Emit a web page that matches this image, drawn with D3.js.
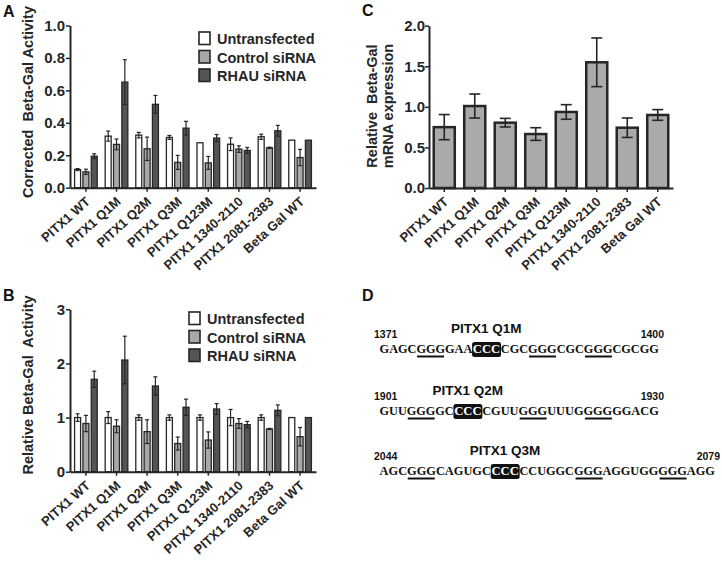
<!DOCTYPE html>
<html><head><meta charset="utf-8">
<script src="https://cdn.jsdelivr.net/npm/d3@7"></script>
<style>body{margin:0;background:#fff}svg{display:block}</style>
</head><body><svg id="c" width="722" height="562"></svg>
<script>
// ---------- DATA ----------
const categories = ["PITX1 WT","PITX1 Q1M","PITX1 Q2M","PITX1 Q3M","PITX1 Q123M","PITX1 1340-2110","PITX1 2081-2383","Beta Gal WT"];
const seriesNames = ["Untransfected","Control siRNA","RHAU siRNA"];
const aUntransfected    = [0.112,0.318,0.324,0.310,0.277,0.268,0.314,0.293];
const aUntransfectedErr = [0.006,0.031,0.017,0.012,0,0.039,0.016,0];
const aControl          = [0.098,0.267,0.240,0.156,0.153,0.238,0.246,0.186];
const aControlErr       = [0.016,0.033,0.072,0.043,0.040,0.020,0.004,0.050];
const aRhau             = [0.194,0.651,0.514,0.367,0.306,0.230,0.351,0.293];
const aRhauErr          = [0.015,0.138,0.055,0.042,0.022,0.018,0.033,0];
const bUntransfected    = [1,1,1,1,1,1,1,1];
const bUntransfectedErr = [0.07,0.11,0.05,0.05,0.05,0.15,0.05,0];
const bControl          = [0.89,0.84,0.74,0.52,0.585,0.89,0.79,0.647];
const bControlErr       = [0.15,0.12,0.22,0.12,0.15,0.09,0.01,0.17];
const bRhau             = [1.707,2.063,1.583,1.19,1.158,0.869,1.134,1.0];
const bRhauErr          = [0.15,0.44,0.17,0.15,0.10,0.06,0.10,0];
const cValues           = [0.75,1.01,0.805,0.665,0.937,1.549,0.743,0.9];
const cErr              = [0.155,0.148,0.053,0.078,0.09,0.30,0.12,0.066];
const aTicks = [0,0.2,0.4,0.6,0.8,1.0];
const bTicks = [0,1,2,3];
const cTicks = [0,0.5,1.0,1.5,2.0];
const seqLabels = ["PITX1 Q1M","PITX1 Q2M","PITX1 Q3M"];
const seqStarts = [1371,1901,2044];
const seqEnds = [1400,1930,2079];
const sequences = ["GAGCGGGGAACCCCGCGGGCGCGGGCGCGG","GUUGGGGCCCCCGUUGGGUUUGGGGGGACG","AGCGGGCAGUGCCCCCCUGGCGGGAGGUGGGGGAGG"];
const seqUnderlines = [[4,16,22],[3,15,22],[3,21,30]];
const seqBoxes = [10,8,12];

// ---------- DRAW ----------
const svg = d3.select("#c");
const FONT = '"Liberation Sans", Arial, Helvetica, sans-serif';
const SERIF = '"Liberation Serif", "Times New Roman", serif';
const fills = ["#ffffff","#a8a8a8","#555555"];
const ink = "#262626";

function styleAxis(g, fs){
  g.attr("font-family", FONT).attr("font-weight","bold").attr("font-size", fs);
  g.select(".domain").attr("stroke", ink).attr("stroke-width", 2);
  g.selectAll(".tick line").attr("stroke", ink).attr("stroke-width", 1.5);
  g.selectAll(".tick text").attr("fill", ink);
}
function rotateLabels(g){
  g.selectAll(".tick text").attr("x",0).attr("y",0).attr("dy",null)
    .attr("text-anchor","end").attr("transform","translate(5,15) rotate(-42)");
}
function yTitle(lines, x, yc, step){
  lines.forEach((t,i)=>{
    svg.append("text").attr("transform",`translate(${x+i*step},${yc}) rotate(-90)`)
      .attr("text-anchor","middle").attr("font-family",FONT).attr("font-weight","bold")
      .attr("font-size",14.5).attr("fill",ink).style("white-space","pre").text(t);
  });
}
function panelLetter(t,x,y){
  svg.append("text").attr("x",x).attr("y",y).attr("font-family",FONT).attr("font-weight","bold")
    .attr("font-size",16).attr("fill","#111").text(t);
}

function grouped(cfg){
  const x0 = d3.scaleBand().domain(categories).range(cfg.xr).paddingInner(0.26).paddingOuter(0.15);
  const x1 = d3.scaleBand().domain(seriesNames).range([0,x0.bandwidth()]).paddingInner(0.28);
  const y = d3.scaleLinear().domain(cfg.yd).range(cfg.yr);
  const g = svg.append("g");
  const rows = cfg.series.map((s,si)=> s.v.map((v,i)=>({v, e:s.e[i], cat:categories[i], si})));
  rows.forEach(r=>{
    g.append("g").selectAll("rect").data(r).join("rect")
      .attr("x",d=>x0(d.cat)+x1(seriesNames[d.si]))
      .attr("y",d=>y(d.v)).attr("width",x1.bandwidth()).attr("height",d=>y(0)-y(d.v))
      .attr("fill",d=>fills[d.si]).attr("stroke",ink).attr("stroke-width",1.3);
  });
  rows.forEach(r=>{
    const eg = g.append("g").attr("stroke",ink).attr("stroke-width",1.2);
    const d = r.filter(o=>o.e>0);
    const cx = o=>x0(o.cat)+x1(seriesNames[o.si])+x1.bandwidth()/2;
    eg.selectAll(".v").data(d).join("line").attr("class","v")
      .attr("x1",cx).attr("x2",cx).attr("y1",o=>y(o.v-o.e)).attr("y2",o=>y(o.v+o.e));
    eg.selectAll(".t").data(d).join("line").attr("class","t")
      .attr("x1",o=>cx(o)-2).attr("x2",o=>cx(o)+2).attr("y1",o=>y(o.v+o.e)).attr("y2",o=>y(o.v+o.e));
    eg.selectAll(".b").data(d).join("line").attr("class","b")
      .attr("x1",o=>cx(o)-2).attr("x2",o=>cx(o)+2).attr("y1",o=>y(o.v-o.e)).attr("y2",o=>y(o.v-o.e));
  });
  const ya = svg.append("g").attr("transform",`translate(${cfg.xr[0]},0)`)
    .call(d3.axisLeft(y).tickValues(cfg.ticks).tickFormat(cfg.fmt).tickSize(4).tickSizeOuter(0).tickPadding(1));
  styleAxis(ya,15);
  const xa = svg.append("g").attr("transform",`translate(0,${y(0)})`)
    .call(d3.axisBottom(x0).tickSize(4).tickSizeOuter(0));
  styleAxis(xa,13); rotateLabels(xa);
  // legend
  const lg = svg.append("g").attr("transform",`translate(${cfg.legend[0]},${cfg.legend[1]})`);
  const li = lg.selectAll("g").data(seriesNames).join("g").attr("transform",(d,i)=>`translate(0,${i*18.5})`);
  li.append("rect").attr("x",0).attr("y",-12).attr("width",11).attr("height",12.5)
    .attr("fill",(d,i)=>fills[i]).attr("stroke",ink).attr("stroke-width",1.6);
  li.append("text").attr("x",18).attr("y",0).attr("font-family",FONT).attr("font-weight","bold")
    .attr("font-size",14.5).attr("fill",ink).text(d=>d);
}

// Panel A
grouped({xr:[70,316], yr:[187.7,25.5], yd:[0,1], ticks:aTicks, fmt:d3.format(".1f"),
  series:[{v:aUntransfected,e:aUntransfectedErr},{v:aControl,e:aControlErr},{v:aRhau,e:aRhauErr}],
  legend:[199,44]});
yTitle(["Corrected  Beta-Gal Activity"],33,102,0);
panelLetter("A",3,17);

// Panel B
grouped({xr:[70,316], yr:[471.7,309.3], yd:[0,3], ticks:bTicks, fmt:d3.format("d"),
  series:[{v:bUntransfected,e:bUntransfectedErr},{v:bControl,e:bControlErr},{v:bRhau,e:bRhauErr}],
  legend:[189,324]});
yTitle(["Relative Beta-Gal  Activity"],33,385,0);
panelLetter("B",3,301);

// Panel C
(function(){
  const x = d3.scaleBand().domain(categories).range([429,673]).paddingInner(0.31).paddingOuter(0.155);
  const y = d3.scaleLinear().domain([0,2]).range([188,25.7]);
  const data = cValues.map((v,i)=>({v,e:cErr[i],cat:categories[i]}));
  const g = svg.append("g");
  g.selectAll("rect").data(data).join("rect")
    .attr("x",d=>x(d.cat)).attr("y",d=>y(d.v)).attr("width",x.bandwidth()).attr("height",d=>y(0)-y(d.v))
    .attr("fill","#aaaaaa").attr("stroke",ink).attr("stroke-width",2.5);
  const cx = d=>x(d.cat)+x.bandwidth()/2;
  const eg = g.append("g").attr("stroke",ink).attr("stroke-width",1.6);
  eg.selectAll(".v").data(data).join("line").attr("class","v")
    .attr("x1",cx).attr("x2",cx).attr("y1",d=>y(d.v-d.e)).attr("y2",d=>y(d.v+d.e));
  eg.selectAll(".t").data(data).join("line").attr("class","t")
    .attr("x1",d=>cx(d)-5.5).attr("x2",d=>cx(d)+5.5).attr("y1",d=>y(d.v+d.e)).attr("y2",d=>y(d.v+d.e));
  eg.selectAll(".b").data(data).join("line").attr("class","b")
    .attr("x1",d=>cx(d)-5.5).attr("x2",d=>cx(d)+5.5).attr("y1",d=>y(d.v-d.e)).attr("y2",d=>y(d.v-d.e));
  const ya = svg.append("g").attr("transform","translate(429,0)")
    .call(d3.axisLeft(y).tickValues(cTicks).tickFormat(d3.format(".1f")).tickSize(4).tickSizeOuter(0).tickPadding(0));
  styleAxis(ya,15);
  const xa = svg.append("g").attr("transform",`translate(0,${y(0)})`)
    .call(d3.axisBottom(x).tickSize(4).tickSizeOuter(0));
  styleAxis(xa,13); rotateLabels(xa);
  yTitle(["Relative  Beta-Gal","mRNA expression"],377,106,15.5);
  panelLetter("C",362,16);
})();

// Panel D
panelLetter("D",362,301);
(function(){
  const baselines = [353,415,475];
  const xs = d3.scaleLinear().domain([0,36]).range([379.3,715]);
  sequences.forEach((s,k)=>{
    const by = baselines[k];
    const g = svg.append("g");
    const b = seqBoxes[k];
    g.selectAll("line").data(seqUnderlines[k]).join("line")
      .attr("x1",i=>xs(i)+0.5).attr("x2",i=>xs(i+3)-0.5).attr("y1",by+3.5).attr("y2",by+3.5)
      .attr("stroke","#111").attr("stroke-width",2);
    g.append("rect").attr("x",xs(b)-0.5).attr("y",by-11).attr("width",xs(b+3)-xs(b)+1).attr("height",15)
      .attr("rx",2.5).attr("fill","#111");
    const segs = [[0,b,"#111"],[b,b+3,"#fff"],[b+3,s.length,"#111"]];
    g.selectAll("text.seq").data(segs).join("text").attr("class","seq")
      .attr("x",d=>xs(d[0])+0.3).attr("y",by).attr("font-family",SERIF).attr("font-weight","bold")
      .attr("font-size",12.6).attr("fill",d=>d[2])
      .attr("textLength",d=>xs(d[1])-xs(d[0])-0.6).attr("lengthAdjust","spacingAndGlyphs")
      .text(d=>s.slice(d[0],d[1]));
    g.append("text").attr("x",xs(b)-21.5).attr("y",by-20).attr("font-family",FONT).attr("font-weight","bold")
      .attr("font-size",13.5).attr("fill","#111").text(seqLabels[k]);
    g.append("text").attr("x",374).attr("y",by-15).attr("font-family",FONT).attr("font-weight","bold")
      .attr("font-size",10.5).attr("fill","#111").text(seqStarts[k]);
    g.append("text").attr("x",xs(s.length)+5).attr("y",by-15).attr("text-anchor","end").attr("font-family",FONT).attr("font-weight","bold")
      .attr("font-size",10.5).attr("fill","#111").text(seqEnds[k]);
  });
})();
</script>
</body></html>
